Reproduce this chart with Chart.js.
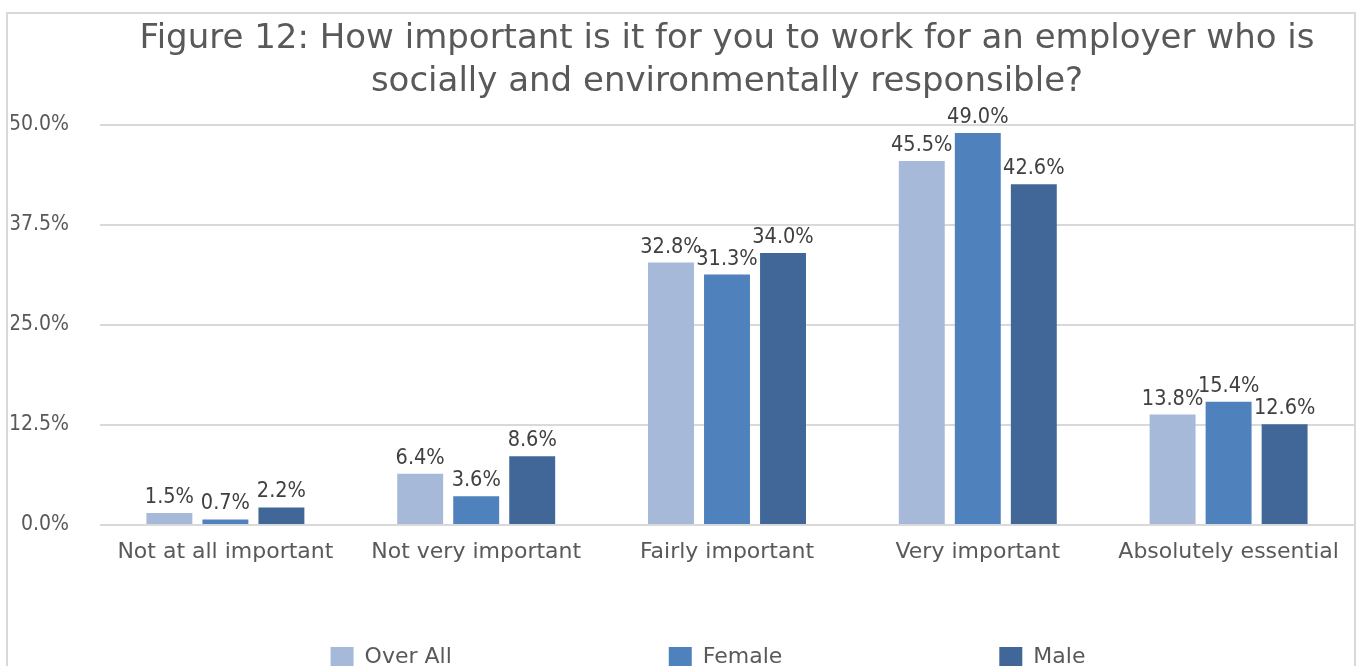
<!DOCTYPE html>
<html>
<head>
<meta charset="utf-8">
<script src="https://cdn.jsdelivr.net/npm/chart.js@4/dist/chart.umd.min.js"></script>
<style>
    html, body { margin: 0; padding: 0; background: #fff; overflow: hidden; }
    #contenedor { position: relative; width: 1357px; height: 666px; overflow: hidden; }
    #marco { position: absolute; left: 6px; top: 12px; width: 1346px; height: 700px; border: 2px solid #d9d9d9; }
    #grafico { position: absolute; left: 0; top: 0; }
</style>
</head>
<body>
<div id="contenedor">
    <div id="marco"></div>
    <canvas id="grafico" width="1357" height="690"></canvas>
</div>
<script>
// ========== DATOS ==========
const categorias = ['Not at all important', 'Not very important', 'Fairly important', 'Very important', 'Absolutely essential'];
const overAll = [1.5, 6.4, 32.8, 45.5, 13.8];
const female = [0.7, 3.6, 31.3, 49.0, 15.4];
const male = [2.2, 8.6, 34.0, 42.6, 12.6];
const ticksY = [0, 12.5, 25, 37.5, 50];
const titulo = [
    'Figure 12: How important is it for you to work for an employer who is',
    'socially and environmentally responsible?'
];

const fuenteNumeros = '"DejaVu Sans Condensed", "DejaVu Sans", sans-serif';

Chart.defaults.font.family = '"DejaVu Sans", sans-serif';
Chart.defaults.color = '#595959';

// Plugin para las etiquetas encima de cada barra
const etiquetasPlugin = {
    id: 'etiquetas',
    afterDatasetsDraw(chart) {
        const ctx = chart.ctx;
        ctx.save();
        ctx.font = '21.5px ' + fuenteNumeros;
        ctx.fillStyle = '#404040';
        ctx.textAlign = 'center';
        ctx.textBaseline = 'alphabetic';
        chart.data.datasets.forEach((ds, i) => {
            chart.getDatasetMeta(i).data.forEach((bar, j) => {
                ctx.fillText(ds.data[j].toFixed(1) + '%', bar.x, bar.y - 10);
            });
        });
        ctx.restore();
    }
};

// Plugin para colocar la leyenda como en el original
const leyendaPlugin = {
    id: 'posLeyenda',
    afterLayout(chart) {
        const leg = chart.legend;
        const dx = 708 - (leg.left + leg.right) / 2;
        leg.left += dx;
        leg.right += dx;
        leg.top = 646 - leg.options.labels.padding;
    }
};

const ctx = document.getElementById('grafico').getContext('2d');
new Chart(ctx, {
    type: 'bar',
    data: {
        labels: categorias,
        datasets: [
            { label: 'Over All', data: overAll, backgroundColor: '#A7B9D9' },
            { label: 'Female', data: female, backgroundColor: '#4F81BD' },
            { label: 'Male', data: male, backgroundColor: '#406797' }
        ]
    },
    options: {
        responsive: false,
        animation: false,
        devicePixelRatio: 1,
        layout: { padding: { left: 11, right: 3, top: 0, bottom: 0 } },
        datasets: {
            bar: { categoryPercentage: 0.67, barPercentage: 0.82 }
        },
        plugins: {
            title: {
                display: true,
                text: titulo,
                fullSize: false,
                color: '#595959',
                font: { size: 34, weight: 'normal', lineHeight: 1.265 },
                padding: { top: 18, bottom: 21 }
            },
            legend: {
                position: 'bottom',
                maxHeight: 40,
                labels: {
                    boxWidth: 23,
                    boxHeight: 20,
                    padding: 217,
                    color: '#595959',
                    font: { size: 22 }
                }
            },
            tooltip: { enabled: false }
        },
        scales: {
            x: {
                grid: { display: false },
                border: { display: false },
                ticks: {
                    padding: 6,
                    maxRotation: 0,
                    autoSkip: false,
                    color: '#595959',
                    font: { size: 22 }
                },
                afterFit(scale) { scale.height = 125; }
            },
            y: {
                min: 0,
                max: 50,
                grid: { color: '#d9d9d9', lineWidth: 2, drawTicks: false },
                border: { display: false },
                afterBuildTicks(scale) { scale.ticks = ticksY.map(v => ({ value: v })); },
                ticks: {
                    padding: 31,
                    color: '#595959',
                    font: { size: 21, family: fuenteNumeros },
                    callback: v => v.toFixed(1) + '%'
                },
                afterFit(scale) { scale.width = 89; }
            }
        }
    },
    plugins: [etiquetasPlugin, leyendaPlugin]
});
</script>
</body>
</html>
